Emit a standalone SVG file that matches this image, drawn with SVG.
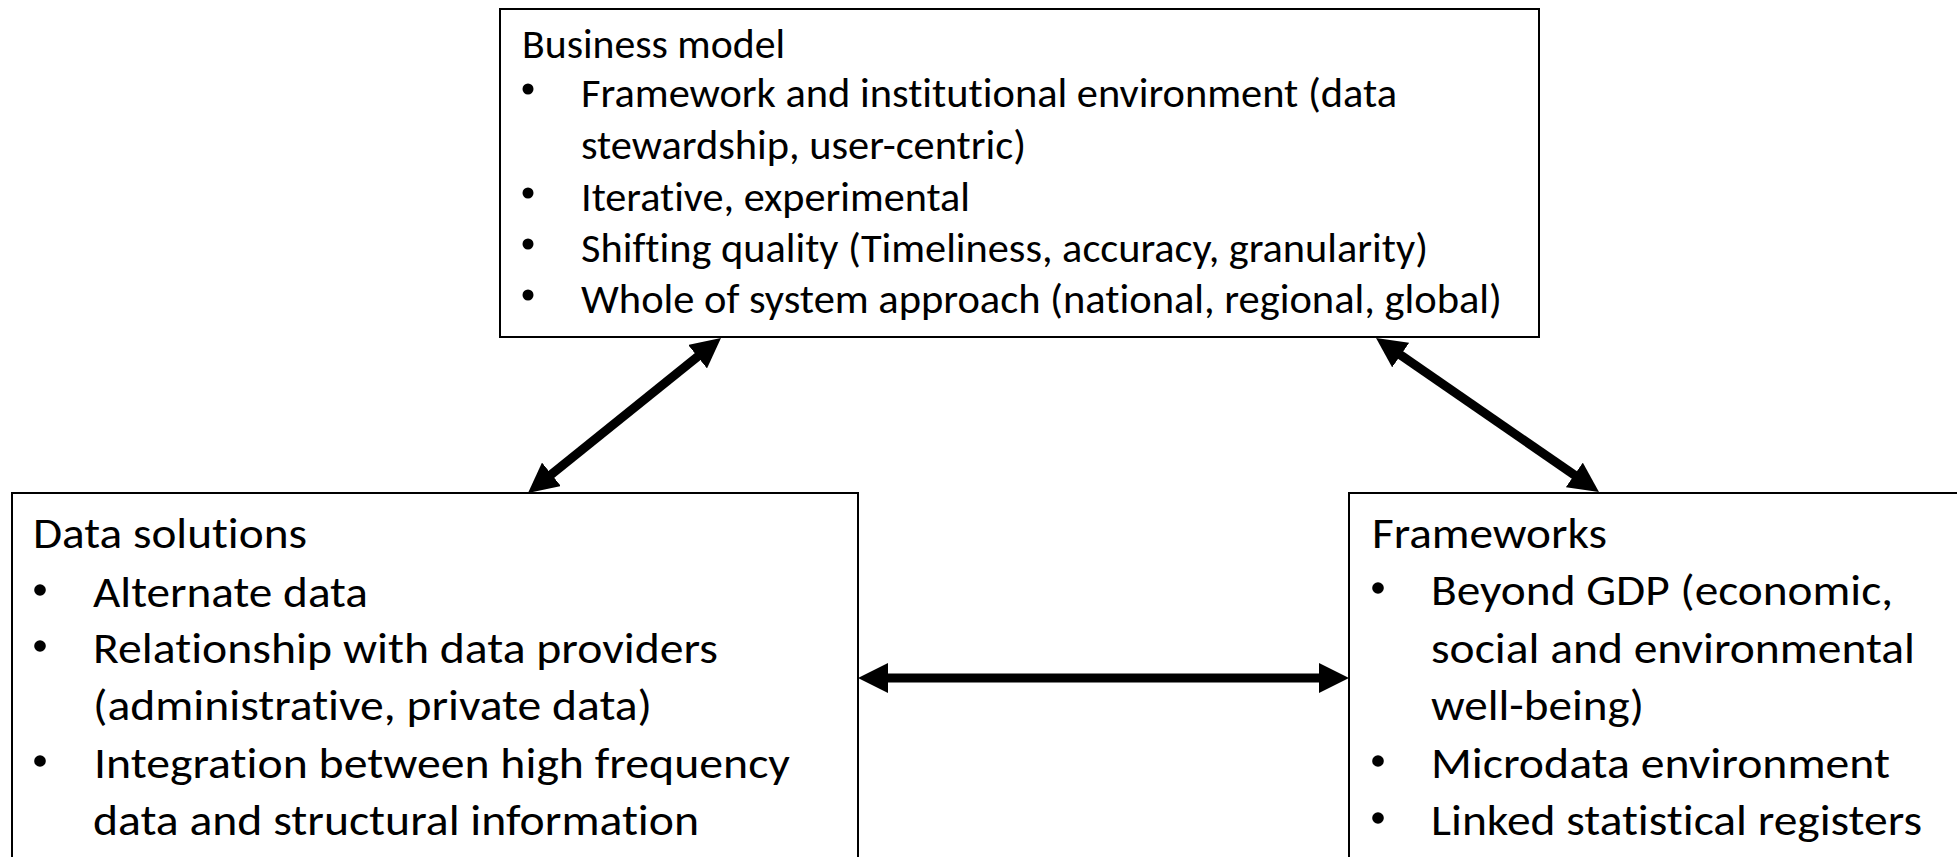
<svg xmlns="http://www.w3.org/2000/svg" width="1957" height="857" viewBox="0 0 1957 857">
<style>
.box{fill:#fff;stroke:#000;stroke-width:2}
.t{font-family:Carlito,Calibri,Lato,"Open Sans",sans-serif;fill:#000;font-variant-ligatures:none}
.top{font-size:40px}
.bot{font-size:43px}
.bul{fill:#000}
.conn{stroke:#000;stroke-width:9;fill:none;marker-start:url(#ah);marker-end:url(#ah)}
</style>
<defs>
<marker id="ah" viewBox="0 0 30 30" markerWidth="30" markerHeight="30" refX="5" refY="15" markerUnits="userSpaceOnUse" orient="auto-start-reverse">
<path d="M0,0 L30,15 L0,30 Z" fill="#000"/>
</marker>
</defs>
<rect width="1957" height="857" fill="#fff"/>
<g id="business-model">
<rect class="box" x="500" y="9" width="1039" height="328"/>
<text class="t top" x="522" y="58" textLength="263" lengthAdjust="spacingAndGlyphs">Business model</text>
<circle class="bul" cx="528" cy="89" r="5.5"/>
<text class="t top" x="581" y="107" textLength="816" lengthAdjust="spacingAndGlyphs">Framework and institutional environment (data</text>
<text class="t top" x="581" y="159" textLength="445" lengthAdjust="spacingAndGlyphs">stewardship, user-centric)</text>
<circle class="bul" cx="528" cy="193" r="5.5"/>
<text class="t top" x="581" y="211" textLength="389" lengthAdjust="spacingAndGlyphs">Iterative, experimental</text>
<circle class="bul" cx="528" cy="244" r="5.5"/>
<text class="t top" x="581" y="262" textLength="847" lengthAdjust="spacingAndGlyphs">Shifting quality (Timeliness, accuracy, granularity)</text>
<circle class="bul" cx="528" cy="295" r="5.5"/>
<text class="t top" x="581" y="313" textLength="921" lengthAdjust="spacingAndGlyphs">Whole of system approach (national, regional, global)</text>
</g>
<g id="data-solutions">
<rect class="box" x="12" y="493" width="846" height="380"/>
<text class="t bot" x="33" y="548" textLength="274" lengthAdjust="spacingAndGlyphs">Data solutions</text>
<circle class="bul" cx="40" cy="590" r="5.8"/>
<text class="t bot" x="93" y="607" textLength="275" lengthAdjust="spacingAndGlyphs">Alternate data</text>
<circle class="bul" cx="40" cy="646" r="5.8"/>
<text class="t bot" x="93" y="663" textLength="625" lengthAdjust="spacingAndGlyphs">Relationship with data providers</text>
<text class="t bot" x="93" y="720" textLength="559" lengthAdjust="spacingAndGlyphs">(administrative, private data)</text>
<circle class="bul" cx="40" cy="761" r="5.8"/>
<text class="t bot" x="94" y="778" textLength="696" lengthAdjust="spacingAndGlyphs">Integration between high frequency</text>
<text class="t bot" x="93" y="835" textLength="606" lengthAdjust="spacingAndGlyphs">data and structural information</text>
</g>
<g id="frameworks">
<rect class="box" x="1349" y="493" width="640" height="380"/>
<text class="t bot" x="1372" y="548" textLength="235" lengthAdjust="spacingAndGlyphs">Frameworks</text>
<circle class="bul" cx="1378" cy="588" r="5.8"/>
<text class="t bot" x="1431" y="605" textLength="462" lengthAdjust="spacingAndGlyphs">Beyond GDP (economic,</text>
<text class="t bot" x="1431" y="663" textLength="484" lengthAdjust="spacingAndGlyphs">social and environmental</text>
<text class="t bot" x="1431" y="720" textLength="213" lengthAdjust="spacingAndGlyphs">well-being)</text>
<circle class="bul" cx="1378" cy="761" r="5.8"/>
<text class="t bot" x="1431" y="778" textLength="459" lengthAdjust="spacingAndGlyphs">Microdata environment</text>
<circle class="bul" cx="1378" cy="818" r="5.8"/>
<text class="t bot" x="1431" y="835" textLength="491" lengthAdjust="spacingAndGlyphs">Linked statistical registers</text>
</g>
<g id="connectors">
<line class="conn" x1="547.5" y1="477.4" x2="701.5" y2="353.6"/>
<line class="conn" x1="1396.6" y1="352.2" x2="1578.4" y2="477.8"/>
<line class="conn" x1="883" y1="678" x2="1324" y2="678"/>
</g>
</svg>
